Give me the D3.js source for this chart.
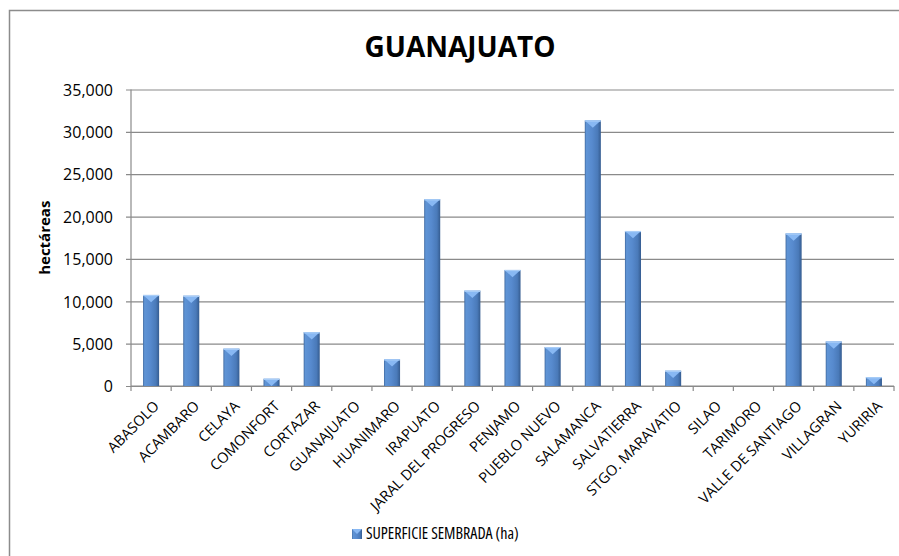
<!DOCTYPE html>
<html>
<head>
<meta charset="utf-8">
<script src="https://cdnjs.cloudflare.com/ajax/libs/d3/7.8.5/d3.min.js"></script>
<style>
  body { margin: 0; background: #fff; }
  text { font-family: 'Open Sans', sans-serif; fill: #000; }
</style>
</head>
<body>
<div id="chart"></div>
<script>
const municipios = [
  'ABASOLO', 'ACAMBARO', 'CELAYA', 'COMONFORT', 'CORTAZAR', 'GUANAJUATO',
  'HUANIMARO', 'IRAPUATO', 'JARAL DEL PROGRESO', 'PENJAMO', 'PUEBLO NUEVO',
  'SALAMANCA', 'SALVATIERRA', 'STGO. MARAVATIO', 'SILAO', 'TARIMORO',
  'VALLE DE SANTIAGO', 'VILLAGRAN', 'YURIRIA',
];
const superficieSembrada = [
  10750, 10650, 4400, 850, 6350, 0,
  3150, 22050, 11250, 13700, 4600,
  31350, 18300, 1800, 0, 0,
  18000, 5250, 1050,
];
const yTicks = [0, 5000, 10000, 15000, 20000, 25000, 30000, 35000];
const chartTitle = 'GUANAJUATO';
const yTitle = 'hectáreas';
const seriesName = 'SUPERFICIE SEMBRADA (ha)';

const width = 899;
const height = 556;
const plot = { left: 131, right: 894, top: 89.5, bottom: 386 };
const gridGray = '#8a8a8a';

const data = municipios.map((name, i) => ({ name, value: superficieSembrada[i] }));

const svg = d3.select('#chart').append('svg')
  .attr('width', width)
  .attr('height', height);

svg.append('rect')
  .attr('width', width)
  .attr('height', height)
  .attr('fill', '#fff');

// chart area border (runs off the right and bottom of the picture)
svg.append('rect')
  .attr('x', 9.5)
  .attr('y', 10.5)
  .attr('width', 1000)
  .attr('height', 1000)
  .attr('fill', 'none')
  .attr('stroke', '#8c8c8c')
  .attr('stroke-width', 1.5);

// gradient for the bevelled bars
const defs = svg.append('defs');
const barGrad = defs.append('linearGradient')
  .attr('id', 'barGrad')
  .attr('x1', '0%').attr('x2', '100%')
  .attr('y1', '0%').attr('y2', '0%');
[
  ['0%', '#40699f'],
  ['10%', '#5f94d5'],
  ['45%', '#578ace'],
  ['80%', '#4a7ab9'],
  ['100%', '#355c90'],
].forEach(([o, c]) => barGrad.append('stop').attr('offset', o).attr('stop-color', c));

const x = d3.scaleBand()
  .domain(municipios)
  .range([plot.left, plot.right])
  .paddingInner(0.6)
  .paddingOuter(0.3);

const y = d3.scaleLinear()
  .domain([0, 35000])
  .range([plot.bottom, plot.top]);

//
// gridlines + y axis
//

const yAxis = svg.append('g')
  .attr('transform', `translate(${plot.left},0)`)
  .call(d3.axisLeft(y)
    .tickValues(yTicks)
    .tickSize(-(plot.right - plot.left))
    .tickSizeOuter(0)
    .tickPadding(18)
    .tickFormat(d3.format(',')));

yAxis.select('.domain').remove();
yAxis.selectAll('.tick line')
  .attr('x1', -5)
  .attr('stroke', gridGray)
  .attr('stroke-width', 1.2);
yAxis.selectAll('.tick text')
  .style('font-size', '16px')
  .attr('dy', '0.36em');

svg.append('line')
  .attr('x1', plot.left).attr('x2', plot.left)
  .attr('y1', plot.top).attr('y2', plot.bottom)
  .attr('stroke', gridGray)
  .attr('stroke-width', 1.2);

//
// x axis: ticks between categories, rotated labels
//

const step = x.step();
const xAxis = svg.append('g');
xAxis.append('line')
  .attr('x1', plot.left).attr('x2', plot.right)
  .attr('y1', plot.bottom).attr('y2', plot.bottom)
  .attr('stroke', gridGray)
  .attr('stroke-width', 1.2);

xAxis.selectAll('line.tick')
  .data(d3.range(municipios.length + 1))
  .enter().append('line')
  .attr('class', 'tick')
  .attr('x1', i => plot.left + i * step)
  .attr('x2', i => plot.left + i * step)
  .attr('y1', plot.bottom)
  .attr('y2', plot.bottom + 5)
  .attr('stroke', gridGray)
  .attr('stroke-width', 1.2);

xAxis.selectAll('text')
  .data(municipios)
  .enter().append('text')
  .attr('transform', d => `translate(${x(d) + x.bandwidth() / 2 + 9},${plot.bottom + 21}) rotate(-45)`)
  .attr('text-anchor', 'end')
  .style('font-size', '14.5px')
  .text(d => d);

//
// bars
//

const bars = svg.append('g')
  .selectAll('g')
  .data(data.filter(d => d.value > 0))
  .enter().append('g');

bars.append('rect')
  .attr('x', d => x(d.name))
  .attr('y', d => y(d.value))
  .attr('width', x.bandwidth())
  .attr('height', d => y(0) - y(d.value))
  .attr('fill', 'url(#barGrad)');

// light top bevel
bars.append('path')
  .attr('d', d => {
    const x0 = x(d.name);
    const w = x.bandwidth();
    const t = y(d.value);
    const depth = Math.min(w * 0.45, (y(0) - t));
    return `M${x0},${t}L${x0 + w},${t}L${x0 + w / 2},${t + depth}Z`;
  })
  .attr('fill', '#88b8f3');

bars.append('rect')
  .attr('x', d => x(d.name))
  .attr('y', d => y(d.value))
  .attr('width', x.bandwidth())
  .attr('height', 1.2)
  .attr('fill', '#a9cdf7');

//
// titles
//

svg.append('text')
  .attr('x', 460)
  .attr('y', 57)
  .attr('text-anchor', 'middle')
  .style('font-size', '28px')
  .style('font-weight', 'bold')
  .text(chartTitle);

svg.append('text')
  .attr('transform', `translate(50,${(plot.top + plot.bottom) / 2}) rotate(-90)`)
  .attr('text-anchor', 'middle')
  .style('font-size', '15px')
  .style('font-weight', 'bold')
  .text(yTitle);

//
// legend
//

const legend = svg.append('g');
legend.append('rect')
  .attr('x', 352)
  .attr('y', 529)
  .attr('width', 10)
  .attr('height', 10)
  .attr('fill', 'url(#barGrad)');
legend.append('path')
  .attr('d', 'M352,529L362,529L357,534Z')
  .attr('fill', '#88b8f3');
legend.append('text')
  .attr('x', 366)
  .attr('y', 539)
  .style('font-size', '16px')
  .style('font-stretch', '75%')
  .text(seriesName);
</script>
</body>
</html>
